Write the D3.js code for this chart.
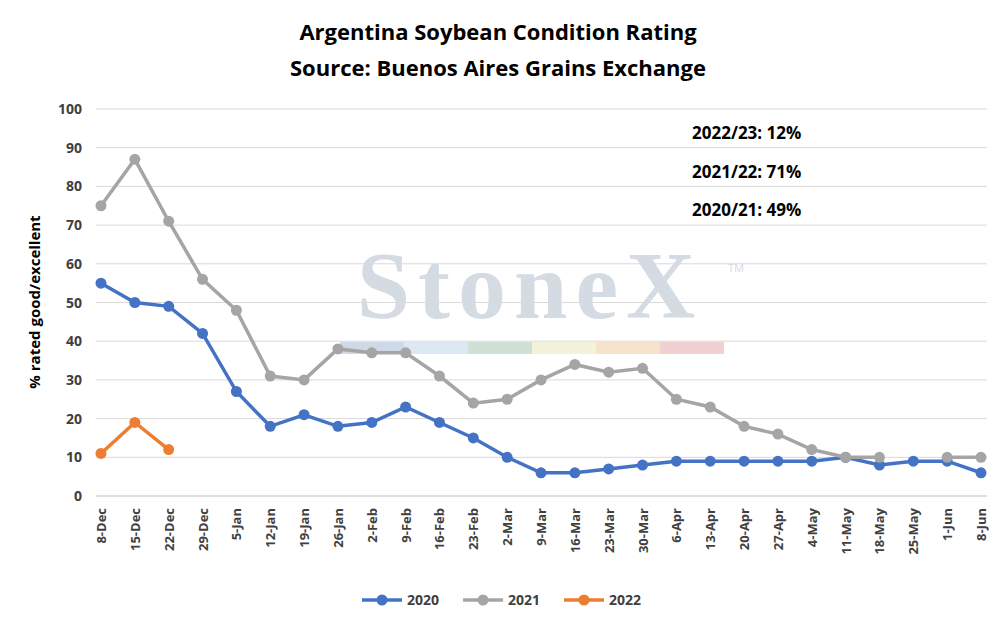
<!DOCTYPE html>
<html><head><meta charset="utf-8">
<script src="https://d3js.org/d3.v7.min.js"></script>
<style>body{margin:0;background:#fff}text{font-family:"Open Sans","Noto Sans",sans-serif}</style>
</head><body>
<script>
var weeks = ["8-Dec","15-Dec","22-Dec","29-Dec","5-Jan","12-Jan","19-Jan","26-Jan","2-Feb","9-Feb","16-Feb","23-Feb","2-Mar","9-Mar","16-Mar","23-Mar","30-Mar","6-Apr","13-Apr","20-Apr","27-Apr","4-May","11-May","18-May","25-May","1-Jun","8-Jun"];
var s2020 = [55,50,49,42,27,18,21,18,19,23,19,15,10,6,6,7,8,9,9,9,9,9,10,8,9,9,6];
var s2021 = [75,87,71,56,48,31,30,38,37,37,31,24,25,30,34,32,33,25,23,18,16,12,10,10,null,10,10];
var s2022 = [11,19,12];
var yTicks = [0,10,20,30,40,50,60,70,80,90,100];
var notes = ["2022/23: 12%","2021/22: 71%","2020/21: 49%"];
var seriesNames = ["2020","2021","2022"];
var colors = ["#4472C4","#A5A5A5","#ED7D31"];

var svg = d3.select("body").append("svg").attr("width",996).attr("height",620);

var x = d3.scalePoint().domain(weeks).range([101,981]);
var y = d3.scaleLinear().domain([0,100]).range([496,109]);

svg.append("text").attr("x",498).attr("y",40).attr("text-anchor","middle")
   .attr("font-size",22).attr("font-weight","bold").text("Argentina Soybean Condition Rating");
svg.append("text").attr("x",498).attr("y",76).attr("text-anchor","middle")
   .attr("font-size",22).attr("font-weight","bold").text("Source: Buenos Aires Grains Exchange");

// grid
svg.selectAll(".grid").data(yTicks.slice(1)).enter().append("line")
   .attr("x1",96).attr("x2",987).attr("y1",d=>y(d)).attr("y2",d=>y(d))
   .attr("stroke","#d9d9d9");
svg.append("line").attr("x1",96).attr("x2",987).attr("y1",y(0)).attr("y2",y(0)).attr("stroke","#bfbfbf");

// watermark
svg.append("text").attr("x",530).attr("y",318).attr("text-anchor","middle")
   .style("font-family","'Liberation Serif',serif").attr("font-size",96).attr("font-weight","bold")
   .attr("fill","#d5dbe2").attr("letter-spacing",8).text("StoneX");
svg.append("text").attr("x",728).attr("y",272).attr("font-size",11).attr("fill","#d5dbe2").text("TM");
["#cdd9e6","#dde8f2","#cfe0d4","#f5f2dc","#f6e3cc","#f2d0d2"].forEach(function(c,i){
  svg.append("rect").attr("x",340+i*64).attr("y",342).attr("width",64).attr("height",12).attr("fill",c);
});

// y axis labels
svg.selectAll(".yl").data(yTicks).enter().append("text")
   .attr("x",82).attr("y",d=>y(d)+5).attr("text-anchor","end")
   .attr("font-size",14).attr("font-weight","bold").attr("fill","#404040").text(d=>d);
svg.append("text").attr("transform","translate(40,302) rotate(-90)").attr("text-anchor","middle")
   .attr("font-size",15).attr("font-weight","bold").text("% rated good/excellent");

// x labels
svg.selectAll(".xl").data(weeks).enter().append("text")
   .attr("transform",d=>"translate("+(x(d)+5)+",508) rotate(-90)").attr("text-anchor","end")
   .attr("font-size",13).attr("font-weight","bold").attr("fill","#404040").text(d=>d);

// notes
svg.selectAll(".note").data(notes).enter().append("text")
   .attr("x",692).attr("y",(d,i)=>139+i*38.5).attr("font-size",17).attr("font-weight","bold").text(d=>d);

var line = d3.line().defined(d=>d!=null).x((d,i)=>x(weeks[i])).y(d=>y(d));
[s2020,s2021,s2022].forEach(function(s,k){
  svg.append("path").datum(s).attr("d",line).attr("fill","none").attr("stroke",colors[k]).attr("stroke-width",3.5);
  svg.selectAll(".p"+k).data(s.map((v,i)=>({v:v,i:i})).filter(d=>d.v!=null)).enter().append("circle")
     .attr("cx",d=>x(weeks[d.i])).attr("cy",d=>y(d.v)).attr("r",5.5).attr("fill",colors[k]);
});

// legend
var lg = svg.selectAll(".lg").data(seriesNames).enter().append("g")
   .attr("transform",(d,i)=>"translate("+(362+i*101)+",600)");
lg.append("line").attr("x1",0).attr("x2",40).attr("stroke",(d,i)=>colors[i]).attr("stroke-width",3.5);
lg.append("circle").attr("cx",20).attr("r",5.5).attr("fill",(d,i)=>colors[i]);
lg.append("text").attr("x",45).attr("y",5).attr("font-size",14).attr("font-weight","bold").attr("fill","#404040").text(d=>d);
</script>
</body></html>
